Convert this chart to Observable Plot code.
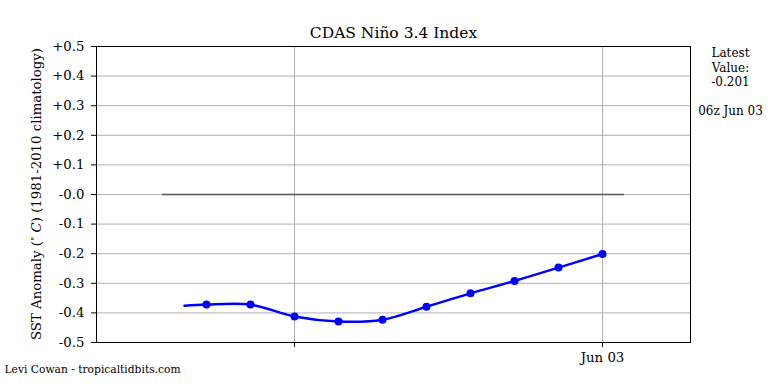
<!DOCTYPE html>
<html>
<head>
<meta charset="utf-8">
<script src="https://cdn.jsdelivr.net/npm/d3@7"></script>
<script src="https://cdn.jsdelivr.net/npm/@observablehq/plot@0.6"></script>
<style>
  html, body { margin: 0; padding: 0; background: #fff; }
</style>
</head>
<body>
<div id="chart"></div>
<script>
// Daily Niño 3.4 anomaly values (°C)
const dates = ["2024-05-25","2024-05-26","2024-05-27","2024-05-28","2024-05-29",
               "2024-05-30","2024-05-31","2024-06-01","2024-06-02","2024-06-03"];
const values = [-0.372, -0.372, -0.412, -0.429, -0.423, -0.379, -0.334, -0.292, -0.247, -0.201];
// smoothed line starts half a day before the first marker
const lineStartDate = "2024-05-24T12:00Z";
const lineStartValue = -0.376;
const yTicks = [0.5, 0.4, 0.3, 0.2, 0.1, 0.0, -0.1, -0.2, -0.3, -0.4, -0.5];
const yTickLabels = ["+0.5","+0.4","+0.3","+0.2","+0.1","-0.0","-0.1","-0.2","-0.3","-0.4","-0.5"];
const xTicks = ["2024-05-27", "2024-06-03"];
const xTickLabels = ["", "Jun 03"];
const zeroLineStart = "2024-05-24T00:00Z";
const zeroLineEnd = "2024-06-03T12:00Z";
const xDomain = ["2024-05-22T12:00Z", "2024-06-05T00:00Z"];
const title = "CDAS Niño 3.4 Index";
const latestText = "Latest\nValue:\n-0.201";
const latestTime = "06z Jun 03";
const credit = "Levi Cowan - tropicaltidbits.com";

const pts = dates.map((d, i) => ({date: new Date(d + "T00:00Z"), value: values[i]}));
const linePts = [{date: new Date(lineStartDate), value: lineStartValue}, ...pts];
const xt = xTicks.map(d => new Date(d + "T00:00Z"));

// Pick a serif face: regular DejaVu Serif if it is really present, else the condensed one widened.
const ctx = document.createElement("canvas").getContext("2d");
const probe = "CDAS Niño 3.4 Index";
function w(f) { ctx.font = "100px " + f; return ctx.measureText(probe).width; }
const wSerif = w("'DejaVu Serif'"), wSans = w("'DejaVu Sans'"), wCond = w("'DejaVu Serif Condensed'");
const serifOK = Math.abs(wSerif - wSans) > 1 && Math.abs(wSerif - wCond) > 1;
const font = serifOK ? "'DejaVu Serif'" : "'DejaVu Serif Condensed'";
const widen = serifOK ? 1 : (1075.9 / wCond); // DejaVu Serif advance of probe ≈ 10.759 em

const plot = Plot.plot({
  width: 768,
  height: 384,
  marginLeft: 96,
  marginRight: 78,
  marginTop: 46,
  marginBottom: 42,
  style: {fontFamily: font, fontSize: "13.3px", color: "#000", background: "#fff"},
  x: {type: "utc", domain: xDomain.map(d => new Date(d))},
  y: {domain: [-0.5, 0.5]},
  marks: [
    Plot.gridY(yTicks, {stroke: "#b0b0b0", strokeOpacity: 1, strokeWidth: 1}),
    Plot.gridX(xt, {stroke: "#b0b0b0", strokeOpacity: 1, strokeWidth: 1}),
    Plot.ruleY([0], {x1: new Date(zeroLineStart), x2: new Date(zeroLineEnd), stroke: "#555", strokeWidth: 1.5}),
    Plot.line(linePts, {x: "date", y: "value", stroke: "#0000ff", strokeWidth: 2.5, curve: "catmull-rom"}),
    Plot.dot(pts, {x: "date", y: "value", r: 4, fill: "#0000ff", stroke: "none"}),
    Plot.axisY(yTicks, {tickSize: 5, tickPadding: 7, tickFormat: (d, i) => yTickLabels[i], label: null, fontSize: 13.3}),
    Plot.axisX(xt, {tickSize: 5, tickPadding: 5, tickFormat: (d, i) => xTickLabels[i], label: null, fontSize: 13.3}),
    Plot.frame({stroke: "#000", strokeWidth: 1}),
    Plot.text([title], {frameAnchor: "top", dy: -13, lineAnchor: "middle", fontSize: 15.5, fill: "#000"}),
    Plot.text([latestText], {frameAnchor: "top-right", dx: 40, dy: 0, lineAnchor: "top", textAnchor: "middle", fontSize: 12, lineHeight: 1.22, fill: "#000"}),
    Plot.text([latestTime], {frameAnchor: "top-right", dx: 40, dy: 65, lineAnchor: "middle", textAnchor: "middle", fontSize: 12, fill: "#000"}),
    Plot.text([credit], {frameAnchor: "bottom-left", dx: -92, dy: 27, lineAnchor: "middle", textAnchor: "start", fontSize: 10.7, fill: "#000"})
  ]
});

// y-axis label with superscript degree and italic C
const svg = d3.select(plot);
const lab = svg.append("text")
  .attr("class", "ylabel")
  .attr("transform", "translate(37,194) rotate(-90)")
  .attr("text-anchor", "middle")
  .attr("dominant-baseline", "middle")
  .attr("font-size", 13.3)
  .attr("fill", "#000");
lab.append("tspan").text("SST Anomaly (");
lab.append("tspan").attr("font-size", 9).attr("dy", -5).text("∘");
lab.append("tspan").attr("font-style", "italic").attr("dy", 5).text(" C");
lab.append("tspan").text(") (1981-2010 climatology)");

document.getElementById("chart").appendChild(plot);

plot.querySelectorAll("text, tspan").forEach(t => {
  t.setAttribute("font-family", font);
  t.style.fontFamily = font;
});

if (widen !== 1) {
  plot.querySelectorAll("text").forEach(t => {
    const spans = t.querySelectorAll("tspan");
    if (spans.length && !t.classList.contains("ylabel")) {
      spans.forEach(s => {
        const L = s.getComputedTextLength();
        if (L > 0) { s.setAttribute("textLength", L * widen); s.setAttribute("lengthAdjust", "spacingAndGlyphs"); }
      });
    } else {
      const L = t.getComputedTextLength();
      if (L > 0) { t.setAttribute("textLength", L * widen); t.setAttribute("lengthAdjust", "spacingAndGlyphs"); }
    }
  });
}
</script>
</body>
</html>
